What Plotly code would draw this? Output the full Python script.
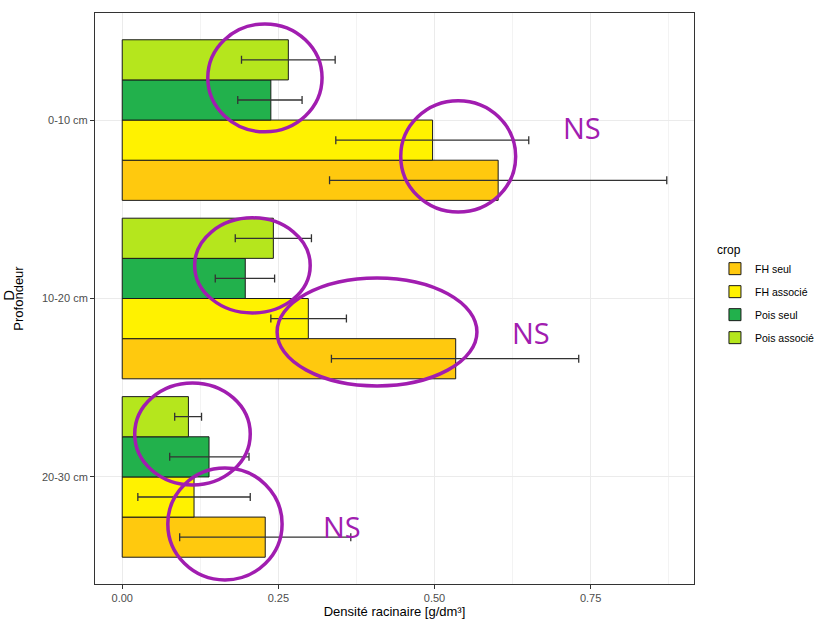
import plotly.graph_objects as go

# ---------------- data ----------------
depths = ["0-10 cm", "10-20 cm", "20-30 cm"]
crops = ["FH seul", "FH associé", "Pois seul", "Pois associé"]

means = {
    "FH seul":      [0.602, 0.534, 0.229],
    "FH associé":   [0.497, 0.298, 0.115],
    "Pois seul":    [0.238, 0.197, 0.139],
    "Pois associé": [0.266, 0.242, 0.106],
}
err_low = {
    "FH seul":      [0.332, 0.335, 0.092],
    "FH associé":   [0.342, 0.238, 0.025],
    "Pois seul":    [0.185, 0.149, 0.076],
    "Pois associé": [0.191, 0.181, 0.084],
}
err_high = {
    "FH seul":      [0.872, 0.731, 0.366],
    "FH associé":   [0.651, 0.359, 0.205],
    "Pois seul":    [0.288, 0.244, 0.203],
    "Pois associé": [0.341, 0.303, 0.127],
}
colors = {
    "FH seul": "#FFC90E",
    "FH associé": "#FFF200",
    "Pois seul": "#22B14C",
    "Pois associé": "#B5E61D",
}

x_ticks = [0.0, 0.25, 0.5, 0.75]
x_tick_labels = ["0.00", "0.25", "0.50", "0.75"]

# hand-drawn annotation ellipses (x0, x1, y0, y1) in data units (y = category index, 0 = 20-30 cm)
ellipses = [
    (0.137, 0.320, 1.934, 2.539),
    (0.446, 0.630, 1.485, 2.108),
    (0.116, 0.301, 0.919, 1.452),
    (0.248, 0.568, 0.510, 1.115),
    (0.020, 0.205, -0.045, 0.527),
    (0.073, 0.256, -0.577, 0.050),
]
ns_labels = [(0.736, 1.956), (0.655, 0.807), (0.352, -0.280)]

PURPLE = "#A11DB0"
FONT = "Liberation Sans, Arial, sans-serif"

fig = go.Figure()
for c in crops:
    m = means[c]
    fig.add_trace(go.Bar(
        name=c,
        legendgroup=c,
        y=depths,
        x=m,
        orientation="h",
        marker=dict(color=colors[c], line=dict(color="#1a1a1a", width=1)),
        error_x=dict(
            type="data",
            symmetric=False,
            array=[h - v for h, v in zip(err_high[c], m)],
            arrayminus=[v - l for v, l in zip(m, err_low[c])],
            color="#333333",
            thickness=1.3,
            width=4,
        ),
    ))

shapes = []
for (x0, x1, y0, y1) in ellipses:
    shapes.append(dict(type="circle", xref="x", yref="y", x0=x0, x1=x1, y0=y0, y1=y1,
                       line=dict(color=PURPLE, width=3.5), layer="above"))

annotations = []
for (xv, yv) in ns_labels:
    annotations.append(dict(x=xv, y=yv, xref="x", yref="y", text="NS", showarrow=False,
                            font=dict(family="Open Sans, Noto Sans, sans-serif", size=29, color=PURPLE)))
annotations.append(dict(x=-0.145, y=0.505, xref="paper", yref="paper", text="D", textangle=-90,
                        xanchor="center", yanchor="middle",
                        showarrow=False, font=dict(family=FONT, size=15, color="#000000")))

fig.update_layout(
    width=821, height=619,
    margin=dict(l=95, r=127, t=13, b=35, autoexpand=False),
    paper_bgcolor="white", plot_bgcolor="white",
    barmode="group", bargap=0.1, bargroupgap=0,
    font=dict(family=FONT, size=11, color="#4D4D4D"),
    shapes=shapes,
    annotations=annotations,
    legend=dict(
        title=dict(text="crop", font=dict(size=12, color="#000000")),
        x=1.035, y=0.605, xanchor="left", yanchor="top",
        traceorder="grouped",
        tracegroupgap=4,
        font=dict(size=10.5, color="#000000"),
        bgcolor="rgba(0,0,0,0)",
    ),
    xaxis=dict(
        range=[-0.0436, 0.9156],
        automargin=False,
        tickvals=x_ticks, ticktext=x_tick_labels,
        showgrid=True, gridcolor="#EBEBEB", gridwidth=1,
        minor=dict(dtick=0.125, tick0=0.125, showgrid=True, gridcolor="#F3F3F3", gridwidth=0.6),
        zeroline=False,
        showline=True, mirror=True, linecolor="#333333", linewidth=1,
        ticks="outside", ticklen=4, tickcolor="#333333",
        tickfont=dict(size=11, color="#4D4D4D"),
        title=dict(text="Densité racinaire [g/dm³]", standoff=2,
                   font=dict(size=13, color="#000000")),
    ),
    yaxis=dict(
        categoryorder="array", categoryarray=depths[::-1],
        range=[-0.6, 2.6],
        automargin=False,
        showgrid=True, gridcolor="#EBEBEB", gridwidth=1,
        zeroline=False,
        showline=True, mirror=True, linecolor="#333333", linewidth=1,
        ticks="outside", ticklen=4, tickcolor="#333333",
        tickfont=dict(size=11, color="#4D4D4D"),
        title=dict(text="Profondeur", standoff=15, font=dict(size=13, color="#000000")),
    ),
)

fig.write_html("out.html")
